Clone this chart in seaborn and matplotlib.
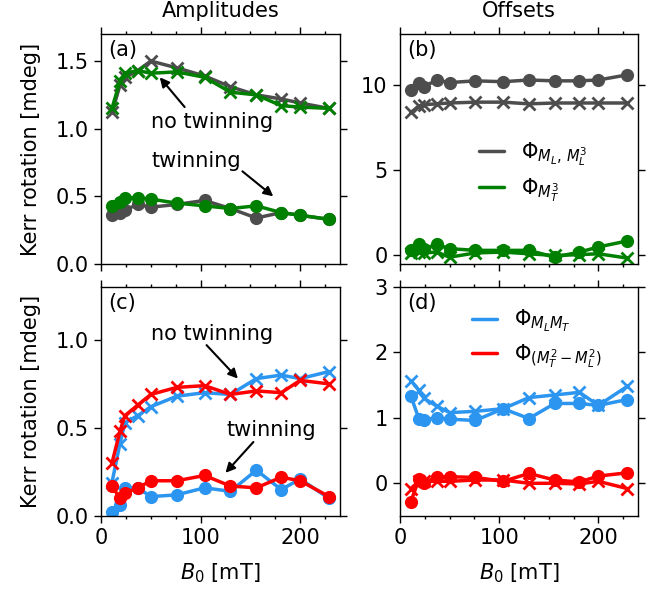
import numpy as np
import pandas as pd
import matplotlib
matplotlib.use("Agg")
import matplotlib.pyplot as plt
from matplotlib.ticker import MultipleLocator
from matplotlib.lines import Line2D
import seaborn as sns

# ---- data ----
B0 = [11, 19, 24, 37, 50, 76, 104, 130, 156, 181, 200, 229]

# (a) amplitudes
a_gray_notwin = [1.12, 1.32, 1.38, 1.43, 1.50, 1.45, 1.39, 1.31, 1.25, 1.22, 1.19, 1.15]
a_green_notwin = [1.15, 1.35, 1.41, 1.43, 1.41, 1.42, 1.38, 1.27, 1.25, 1.17, 1.16, 1.15]
a_gray_twin = [0.36, 0.38, 0.40, 0.44, 0.42, 0.44, 0.47, 0.41, 0.34, 0.38, 0.36, 0.33]
a_green_twin = [0.43, 0.46, 0.49, 0.49, 0.48, 0.45, 0.43, 0.41, 0.43, 0.38, 0.36, 0.33]

# (b) offsets
b_gray_circ = [9.7, 10.1, 9.9, 10.3, 10.15, 10.25, 10.2, 10.3, 10.25, 10.25, 10.3, 10.6]
b_gray_x = [8.4, 8.75, 8.85, 8.9, 8.95, 9.0, 9.0, 8.9, 8.95, 8.95, 8.95, 8.95]
b_green_circ = [0.3, 0.65, 0.4, 0.65, 0.4, 0.3, 0.3, 0.3, -0.1, 0.2, 0.5, 0.85]
b_green_x = [0.15, 0.2, 0.15, 0.2, -0.1, 0.15, 0.2, 0.1, 0.0, 0.05, 0.1, -0.15]

# (c) amplitudes
c_blue_notwin = [0.19, 0.41, 0.53, 0.57, 0.62, 0.68, 0.70, 0.69, 0.78, 0.80, 0.78, 0.82]
c_red_notwin = [0.30, 0.48, 0.57, 0.63, 0.69, 0.73, 0.74, 0.69, 0.71, 0.70, 0.77, 0.75]
c_blue_twin = [0.02, 0.06, 0.16, 0.16, 0.11, 0.12, 0.16, 0.14, 0.26, 0.15, 0.21, 0.10]
c_red_twin = [0.17, 0.10, 0.13, 0.16, 0.20, 0.20, 0.23, 0.17, 0.16, 0.22, 0.20, 0.11]

# (d) offsets
d_blue_x = [1.57, 1.42, 1.30, 1.18, 1.08, 1.10, 1.14, 1.31, 1.35, 1.39, 1.19, 1.48]
d_blue_circ = [1.33, 0.99, 0.97, 1.00, 0.98, 0.96, 1.14, 0.99, 1.22, 1.22, 1.19, 1.28]
d_red_circ = [-0.28, 0.06, 0.0, 0.10, 0.10, 0.09, 0.03, 0.15, 0.05, 0.02, 0.11, 0.16]
d_red_x = [-0.08, 0.03, 0.03, 0.03, 0.03, 0.05, 0.05, 0.0, 0.0, -0.01, 0.03, -0.08]

GRAY = "#4d4d4d"
GREEN = "#008000"
BLUE = "#2b95f0"
RED = "#ff0000"
FS = 15

sns.set_style("ticks")
plt.rcParams["font.family"] = ["DejaVu Sans"]
plt.rcParams["mathtext.fontset"] = "dejavusans"
plt.rcParams["font.size"] = FS
for k in ("text.color", "axes.labelcolor", "xtick.color", "ytick.color", "axes.edgecolor"):
    plt.rcParams[k] = "black"

W, H = 667, 593
fig = plt.figure(figsize=(W / 100, H / 100), dpi=100)

def pos(l, r, t, b):
    return [l / W, 1 - b / H, (r - l) / W, (b - t) / H]

ax_a = fig.add_axes(pos(101, 340, 34, 264))
ax_b = fig.add_axes(pos(400, 638, 34, 264))
ax_c = fig.add_axes(pos(101, 340, 287, 516))
ax_d = fig.add_axes(pos(400, 638, 287, 516))

LW = 2.5

def series(ax, y, color, marker):
    df = pd.DataFrame({"B0": B0, "val": y})
    if marker == "o":
        sns.lineplot(data=df, x="B0", y="val", ax=ax, color=color, lw=LW,
                     marker="o", markersize=9.5, markeredgewidth=0, sort=False)
    else:
        sns.lineplot(data=df, x="B0", y="val", ax=ax, color=color, lw=LW,
                     marker="x", markersize=8.5, markeredgewidth=2, markeredgecolor=color,
                     sort=False)

series(ax_a, a_gray_notwin, GRAY, "x")
series(ax_a, a_green_notwin, GREEN, "x")
series(ax_a, a_gray_twin, GRAY, "o")
series(ax_a, a_green_twin, GREEN, "o")

series(ax_b, b_gray_circ, GRAY, "o")
series(ax_b, b_gray_x, GRAY, "x")
series(ax_b, b_green_circ, GREEN, "o")
series(ax_b, b_green_x, GREEN, "x")

series(ax_c, c_blue_notwin, BLUE, "x")
series(ax_c, c_red_notwin, RED, "x")
series(ax_c, c_blue_twin, BLUE, "o")
series(ax_c, c_red_twin, RED, "o")

series(ax_d, d_blue_x, BLUE, "x")
series(ax_d, d_blue_circ, BLUE, "o")
series(ax_d, d_red_circ, RED, "o")
series(ax_d, d_red_x, RED, "x")

ylims = {ax_a: (0, 1.7), ax_b: (-0.5, 13), ax_c: (0, 1.3), ax_d: (-0.5, 3)}
ysteps = {ax_a: 0.5, ax_b: 5, ax_c: 0.5, ax_d: 1}
for ax in (ax_a, ax_b, ax_c, ax_d):
    ax.set_xlim(0, 240)
    ax.set_ylim(*ylims[ax])
    ax.xaxis.set_major_locator(MultipleLocator(100))
    ax.xaxis.set_minor_locator(MultipleLocator(25))
    ax.yaxis.set_major_locator(MultipleLocator(ysteps[ax]))
    ax.tick_params(which="both", direction="out", top=True, right=True,
                   labelsize=FS, color="black")
    ax.tick_params(which="major", length=5, width=1.0, pad=4)
    ax.tick_params(which="minor", length=2.5, width=1.0)
    for s in ax.spines.values():
        s.set_color("black")
        s.set_linewidth(1.0)
    ax.set_xlabel("")
    ax.set_ylabel("")

for ax in (ax_a, ax_b):
    ax.tick_params(labelbottom=False)
for ax in (ax_c, ax_d):
    ax.set_xlabel(r"$B_0$ [mT]", fontsize=FS, labelpad=9)
for ax in (ax_a, ax_c):
    ax.set_ylabel("Kerr rotation [mdeg]", fontsize=FS, labelpad=10)

ax_a.set_title("Amplitudes", fontsize=FS, pad=0, y=1.074)
ax_b.set_title("Offsets", fontsize=FS, pad=0, y=1.074)

for ax, lab in zip((ax_a, ax_b, ax_c, ax_d), ("(a)", "(b)", "(c)", "(d)")):
    ax.text(0.03, 0.975, lab, transform=ax.transAxes, va="top", ha="left", fontsize=FS)

arrow = dict(arrowstyle="-|>", color="black", lw=1.5, mutation_scale=14, shrinkA=0, shrinkB=0)

ax_a.text(112, 1.05, "no twinning", ha="center", va="center", fontsize=FS)
ax_a.annotate("", xy=(59, 1.38), xytext=(84, 1.16), arrowprops=arrow)
ax_a.text(96, 0.76, "twinning", ha="center", va="center", fontsize=FS)
ax_a.annotate("", xy=(173, 0.50), xytext=(142, 0.685), arrowprops=arrow)

ax_c.text(112, 1.036, "no twinning", ha="center", va="center", fontsize=FS)
ax_c.annotate("", xy=(137.5, 0.78), xytext=(106, 0.97), arrowprops=arrow)
ax_c.text(171, 0.487, "twinning", ha="center", va="center", fontsize=FS)
ax_c.annotate("", xy=(125, 0.245), xytext=(153, 0.42), arrowprops=arrow)

hb = [Line2D([], [], color=GRAY, lw=LW), Line2D([], [], color=GREEN, lw=LW)]
ax_b.legend(hb, [r"$\Phi_{M_L,\,M_L^3}$", r"$\Phi_{M_T^3}$"], loc="center",
            bbox_to_anchor=(0.56, 0.40), frameon=False, fontsize=FS,
            handlelength=1.2, labelspacing=0.4)
hd = [Line2D([], [], color=BLUE, lw=LW), Line2D([], [], color=RED, lw=LW)]
ax_d.legend(hd, [r"$\Phi_{M_L M_T}$", r"$\Phi_{(M_T^2-M_L^2)}$"], loc="center",
            bbox_to_anchor=(0.575, 0.772), frameon=False, fontsize=FS,
            handlelength=1.2, labelspacing=0.4)

fig.savefig("out.png", dpi=100)
